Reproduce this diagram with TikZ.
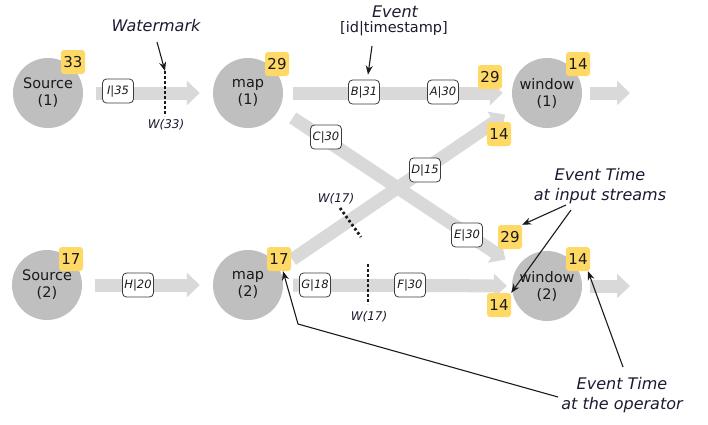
\documentclass[tikz,border=0pt]{standalone}
\usepackage{fontspec}
\setmainfont{DejaVu Sans}
\usetikzlibrary{arrows.meta}
\definecolor{opgray}{HTML}{BFBFBF}
\definecolor{flowgray}{HTML}{D9D9D9}
\definecolor{badgey}{HTML}{FFD966}
\definecolor{ink}{HTML}{1A1A1A}
\definecolor{navy}{HTML}{1A1A30}
\begin{document}
\begin{tikzpicture}[x=1pt,y=-1pt,
  op/.style={circle,fill=opgray,minimum size=70pt,inner sep=0pt,align=center,font=\fontsize{14.5}{17}\selectfont,text=ink},
  badge/.style={fill=badgey,rounded corners=3pt,minimum width=24pt,minimum height=24pt,inner sep=0pt,font=\fontsize{15}{17}\selectfont,text=ink},
  evbox/.style={draw=ink!85,fill=white,rounded corners=4pt,line width=0.8pt,minimum width=31pt,minimum height=24pt,inner sep=1pt,font=\fontsize{11.5}{13}\selectfont\itshape,text=ink},
  flow/.style={draw=flowgray,line width=13pt,-{Triangle[width=24pt,length=13pt]}},
  callout/.style={draw=ink,line width=1.1pt,-{Stealth[length=9pt,width=7pt]}},
  wmline/.style={draw=ink,line width=2.8pt,dash pattern=on 2.5pt off 2.5pt},
  note/.style={font=\fontsize{16}{20}\selectfont\itshape,text=navy,align=center},
  wlabel/.style={font=\fontsize{12}{14}\selectfont\itshape,text=navy}
]
\useasboundingbox (0,0) rectangle (708,424);
% operators
\node[op] (s1) at (48,93) {Source\\(1)};
\node[op] (m1) at (248,93) {map\\(1)};
\node[op] (w1) at (547,93) {window\\(1)};
\node[op] (s2) at (47,285) {Source\\(2)};
\node[op] (m2) at (248,285) {map\\(2)};
\node[op] (w2) at (547,286) {window\\(2)};
\coordinate (o1) at (630,93);
\coordinate (o2) at (630,286);
% streams
\draw[flow,shorten <=13pt,shorten >=13pt] (s1) -- (m1);
\draw[flow,shorten <=13pt,shorten >=13pt] (s2) -- (m2);
\draw[flow,shorten <=10pt,shorten >=9pt] (m1) -- (w1);
\draw[flow,shorten <=10pt,shorten >=5pt] (m2) -- (w2);
\draw[flow,shorten <=16pt,shorten >=14pt] (m1.-27) -- (w2.148);
\draw[flow,shorten <=16pt,shorten >=12pt] (m2.28) -- (w1.205);
\draw[flow,shorten <=8pt] (w1) -- (o1);
\draw[flow,shorten <=8pt] (w2) -- (o2);
% events
\node[evbox] (lI) at (118,91) {I|35};
\node[evbox] (lB) at (364,92) {B|31};
\node[evbox] (lA) at (443,92) {A|30};
\node[evbox] (lC) at (326,137) {C|30};
\node[evbox] (lD) at (425,170) {D|15};
\node[evbox] (lE) at (467,235) {E|30};
\node[evbox] (lH) at (138,285) {H|20};
\node[evbox] (lG) at (315,285) {G|18};
\node[evbox] (lF) at (410,285) {F|30};
% badges
\node[badge] (b33) at (73,62) {33};
\node[badge] (b29m1) at (277,64) {29};
\node[badge] (b14w1) at (578,64) {14};
\node[badge] (b29w1) at (490,77) {29};
\node[badge] (b14w1b) at (499,134) {14};
\node[badge] (b17s2) at (71,259) {17};
\node[badge] (b17m2) at (279,259) {17};
\node[badge] (b29w2) at (510,237) {29};
\node[badge] (b14w2b) at (499,305) {14};
\node[badge] (b14w2) at (578,259) {14};
% watermarks
\coordinate (wa1) at (165,71);
\coordinate (wa2) at (165,116);
\draw[wmline] (wa1) -- (wa2);
\node[wlabel] (w33) at (166,125) {W(33)};
\coordinate (wb1) at (340,208);
\coordinate (wb2) at (361,237);
\draw[wmline] (wb1) -- (wb2);
\node[wlabel] (w17a) at (336,199) {W(17)};
\coordinate (wc1) at (368,264);
\coordinate (wc2) at (368,304);
\draw[wmline] (wc1) -- (wc2);
\node[wlabel] (w17b) at (369,317) {W(17)};
% notes
\node[note] (nWM) at (156,26) {Watermark};
\coordinate (cWM) at (157,42);
\draw[callout] (cWM) -- (wa1);
\node[note] (nEv) at (395,12) {Event};
\node[font=\fontsize{14.5}{17}\selectfont,text=navy] (nEv2) at (394,29) {[id|timestamp]};
\coordinate (cEv) at (372,46);
\draw[callout] (cEv) -- ([xshift=4pt,yshift=5pt]lB.north);
\node[note] (nIn) at (600,186) {Event Time\\at input streams};
\coordinate (cIn1) at (566,205);
\coordinate (cIn2) at (571,210);
\draw[callout] (cIn1) -- (b29w2.north east);
\draw[callout] (cIn2) -- (b14w2b.north east);
\node[note] (nOp) at (622,395) {Event Time\\at the operator};
\coordinate (cOp1) at (623,367);
\coordinate (cOp2) at (558,397);
\coordinate (cBend) at (298,324);
\draw[callout] (cOp1) -- ([xshift=10pt]b14w2.south);
\draw[callout] (cOp2) -- (cBend) -- ([xshift=4pt]b17m2.south);
\end{tikzpicture}
\end{document}
